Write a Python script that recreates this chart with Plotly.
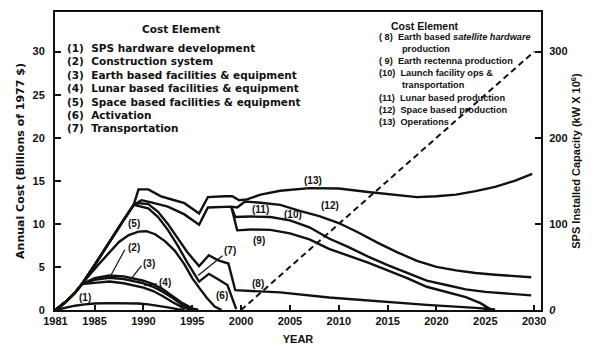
import plotly.graph_objects as go

# ---- Data -----------------------------------------------------------------
# Shared rising edge of the cost envelope (billions of 1977 $)
rise_years = [1981, 1982, 1983, 1983.7, 1985, 1986, 1987, 1988, 1989]
rise_cost = [0, 0.9, 2.0, 3.0, 5.2, 7.0, 8.8, 10.5, 12.2]

# (1) SPS hardware development
c1_years = [1981, 1982, 1983, 1984, 1985, 1986.5, 1988, 1989.5, 1990.5, 1991.5, 1992.5, 1993.5, 1994.2]
c1_cost = [0, 0.25, 0.5, 0.65, 0.75, 0.8, 0.8, 0.75, 0.65, 0.5, 0.3, 0.1, 0]

# Cumulative tops of elements (2), (3), (4)
bundle_years = [1983.7, 1985, 1986.5, 1988, 1990, 1991, 1992, 1993, 1994, 1995, 1995.6]
c2_cost = [3.0, 3.15, 3.3, 3.1, 2.6, 2.2, 1.6, 0.9, 0.3, 0.0, 0.0]
c3_cost = [3.0, 3.5, 3.75, 3.6, 3.1, 2.7, 2.1, 1.4, 0.6, 0.1, 0.0]
c4_cost = [3.0, 3.7, 4.0, 3.9, 3.4, 3.0, 2.4, 1.6, 0.8, 0.2, 0.0]

# Cumulative top of element (5)
c5_years = [1983.7, 1984.5, 1985.5, 1986.5, 1987.5, 1988.5, 1989.5, 1990.3, 1991.2,
            1992.2, 1993.2, 1994.2, 1995, 1995.7, 1996.5, 1997.3, 1998]
c5_cost = [3.0, 4.1, 5.4, 6.7, 7.9, 8.7, 9.1, 9.15, 8.8, 8.0, 6.9, 5.3, 3.7, 2.6, 1.4, 0.4, 0]

# Cumulative top of element (6)
c6_years = [1989, 1989.8, 1990.5, 1991.5, 1992.5, 1993.5, 1994.5, 1995.7, 1996.7, 1997.6, 1998.6, 1999.5]
c6_cost = [12.2, 12.0, 11.8, 10.8, 9.3, 7.5, 5.5, 3.3, 4.2, 3.6, 2.9, 0.1]

# Cumulative top of element (7), continuing as element (8)
c7_years = [1989, 1989.6, 1990.5, 1991.5, 1992.5, 1993.5, 1994.5, 1995.7, 1996.7, 1997.6,
            1998.7, 1999.4, 2001, 2004, 2009, 2014, 2019, 2024, 2026]
c7_cost = [12.2, 12.4, 12.3, 11.4, 10.0, 8.4, 6.7, 5.1, 6.35, 5.8, 5.4, 2.3, 2.2, 2.05,
           1.45, 1.0, 0.6, 0.25, 0.05]

# Cumulative top of element (9)
c9_years = [1999.0, 1999.6, 2001, 2003, 2005, 2007, 2009, 2011, 2013, 2015, 2017, 2019,
            2021, 2023, 2024.5, 2025.5]
c9_cost = [12.0, 9.25, 9.35, 9.3, 8.9, 8.2, 7.1, 6.3, 5.5, 4.6, 3.7, 2.7, 2.1, 1.5, 0.8, 0.1]

# Cumulative top of elements (10)/(11)
c10_years = [1999.0, 1999.4, 2001, 2003, 2005, 2007, 2009, 2011, 2013, 2015, 2017, 2019,
             2021, 2023, 2025, 2027, 2029.7]
c10_cost = [12.0, 10.8, 10.85, 10.8, 10.4, 9.6, 8.3, 7.3, 6.2, 5.2, 4.3, 3.4, 2.9, 2.4,
            2.1, 1.9, 1.7]

# Second band edge, continuing as the top of element (12)
c12_years = [1989, 1989.8, 1990.8, 1992.5, 1994.2, 1995.7, 1996.6, 1999.0, 1999.6, 2000.4,
             2002, 2004, 2006, 2008, 2010, 2012, 2014, 2016, 2018, 2020, 2022, 2024, 2026, 2029.7]
c12_cost = [12.2, 12.75, 12.5, 12.0, 11.1, 9.9, 11.9, 12.0, 11.9, 12.6, 12.45, 12.2, 11.5,
            10.9, 10.1, 9.0, 7.8, 6.7, 5.7, 5.0, 4.6, 4.3, 4.1, 3.8]

# Total annual cost, top of element (13)
total_years = [1989, 1989.5, 1990.5, 1991.8, 1993, 1994.2, 1995.7, 1996.6, 1998.3, 1999.1,
               1999.8, 2000.6, 2002, 2004, 2007, 2010, 2013, 2016, 2018, 2020, 2022, 2024,
               2026, 2028, 2029.8]
total_cost = [12.2, 14.0, 14.0, 13.2, 12.8, 12.4, 11.2, 13.1, 13.2, 13.2, 12.75, 12.85, 13.4,
              13.85, 14.15, 14.1, 13.7, 13.3, 13.1, 13.2, 13.4, 13.8, 14.3, 15.0, 15.8]

# SPS installed capacity (kW x 10^6), right axis
cap_years = [2000, 2030]
cap_values = [0, 300]

x_ticks = [1981, 1985, 1990, 1995, 2000, 2005, 2010, 2015, 2020, 2025, 2030]
y_ticks = [0, 5, 10, 15, 20, 25, 30]
y2_ticks = [0, 100, 200, 300]
y2_labels = ["<i>0</i>", "100", "200", "300"]

left_items = [
    "(1)  SPS hardware development",
    "(2)  Construction system",
    "(3)  Earth based facilities &amp; equipment",
    "(4)  Lunar based facilities &amp; equipment",
    "(5)  Space based facilities &amp; equipment",
    "(6)  Activation",
    "(7)  Transportation",
]
right_items = [
    "( 8)  Earth based <i>satellite hardware</i>",
    "         production",
    "( 9)  Earth rectenna production",
    "(10)  Launch facility ops &amp;",
    "         transportation",
    "(11)  Lunar based production",
    "(12)  Space based production",
    "(13)  Operations",
]

curve_labels = ["(1)", "(2)", "(3)", "(4)", "(5)", "(6)", "(7)", "(8)", "(9)",
                "(11)", "(10)", "(12)", "(13)"]
label_years = [1984.0, 1989.0, 1990.6, 1992.2, 1989.0, 1998.0, 1998.9, 2001.7, 2001.8,
               2002.0, 2005.3, 2009.1, 2007.4]
label_costs = [1.45, 7.3, 5.4, 3.2, 10.05, 1.7, 6.9, 3.1, 8.1, 11.7, 11.1, 12.15, 15.05]

# ---- Figure ---------------------------------------------------------------
INK = "#111111"
FONT = "Liberation Sans, Arial, sans-serif"
WIDE = "DejaVu Sans, Liberation Sans, sans-serif"
LW = 2.4

# plot area in pixels, used to place the legend text blocks
PLOT_L, PLOT_W, PLOT_B, PLOT_H = 55, 486, 310, 298


def paper_x(px):
    return (px - PLOT_L) / PLOT_W


def paper_y(py):
    return (PLOT_B - py) / PLOT_H


fig = go.Figure()


def add_line(xs, ys, width=LW):
    fig.add_trace(go.Scatter(x=xs, y=ys, mode="lines",
                             line=dict(color=INK, width=width),
                             hoverinfo="skip", showlegend=False))


add_line(c1_years, c1_cost)
add_line(rise_years[:4] + bundle_years[1:], rise_cost[:4] + c2_cost[1:])
add_line(rise_years[:4] + bundle_years[1:], rise_cost[:4] + c3_cost[1:])
add_line(rise_years[:4] + bundle_years[1:], rise_cost[:4] + c4_cost[1:])
add_line(rise_years[:4] + c5_years[1:], rise_cost[:4] + c5_cost[1:])
add_line(rise_years + c6_years[1:], rise_cost + c6_cost[1:])
add_line(rise_years + c7_years[1:], rise_cost + c7_cost[1:])
add_line(c9_years, c9_cost)
add_line(c10_years, c10_cost)
add_line(rise_years + c12_years[1:], rise_cost + c12_cost[1:])
add_line(rise_years + total_years[1:], rise_cost + total_cost[1:])

fig.add_trace(go.Scatter(x=cap_years, y=cap_values, mode="lines", yaxis="y2",
                         line=dict(color=INK, width=2, dash="6px,4px"),
                         hoverinfo="skip", showlegend=False))

for txt, xv, yv in zip(curve_labels, label_years, label_costs):
    fig.add_annotation(x=xv, y=yv, text=txt, showarrow=False,
                       font=dict(family=FONT, size=10, color=INK, weight="bold"))

# leader lines from labels to their curves
leaders = [((1988.1, 7.0), (1986.7, 4.1)),
           ((1989.8, 5.15), (1988.8, 3.7)),
           ((1991.4, 3.05), (1990.1, 2.85)),
           ((1998.1, 6.3), (1995.6, 4.0))]
for (x0, y0), (x1, y1) in leaders:
    fig.add_shape(type="line", x0=x0, y0=y0, x1=x1, y1=y1,
                  line=dict(color=INK, width=1.2))

# legend blocks
fig.add_annotation(xref="paper", yref="paper", x=paper_x(181), y=paper_y(29),
                   text="Cost Element", showarrow=False, xanchor="center", yanchor="middle",
                   font=dict(family=WIDE, size=10.5, color=INK, weight="bold"))
fig.add_annotation(xref="paper", yref="paper", x=paper_x(425), y=paper_y(26),
                   text="Cost Element", showarrow=False, xanchor="center", yanchor="middle",
                   font=dict(family=FONT, size=10.5, color=INK, weight="bold"))
for i, txt in enumerate(left_items):
    fig.add_annotation(xref="paper", yref="paper", x=paper_x(65), y=paper_y(48 + i * 13.4),
                       text=txt, showarrow=False, xanchor="left", yanchor="middle",
                       font=dict(family=WIDE, size=10.5, color=INK, weight="bold"))
for i, txt in enumerate(right_items):
    fig.add_annotation(xref="paper", yref="paper", x=paper_x(377), y=paper_y(37 + i * 12.1),
                       text=txt, showarrow=False, xanchor="left", yanchor="middle",
                       font=dict(family=FONT, size=9.2, color=INK, weight="bold"))

axis_font = dict(family=FONT, size=11, color=INK, weight="bold")
title_font = dict(family=WIDE, size=11, color=INK, weight="bold")
fig.update_layout(
    width=596, height=351,
    margin=dict(l=55, r=55, t=12, b=41, autoexpand=False),
    paper_bgcolor="white", plot_bgcolor="white",
    xaxis=dict(range=[1980.95, 2030.7], tickvals=x_ticks, ticks="inside", ticklen=5,
               tickwidth=1.5, tickcolor=INK, showline=True, linecolor=INK, linewidth=2,
               mirror=True, showgrid=False, zeroline=False, tickfont=axis_font,
               automargin=False,
               title=dict(text="YEAR", font=axis_font, standoff=9)),
    yaxis=dict(range=[0, 34.6], tickvals=y_ticks, ticks="inside", ticklen=6,
               tickwidth=1.5, tickcolor=INK, showline=True, linecolor=INK, linewidth=2,
               showgrid=False, zeroline=False, tickfont=axis_font, ticklabelstandoff=6,
               automargin=False,
               title=dict(text="Annual Cost (Billions of 1977 $)", font=title_font, standoff=6)),
    yaxis2=dict(range=[0, 346], overlaying="y", side="right", tickvals=y2_ticks,
                ticktext=y2_labels, ticks="inside", ticklen=6, tickwidth=1.5, tickcolor=INK,
                showline=True, linecolor=INK, linewidth=2, showgrid=False, zeroline=False,
                tickfont=axis_font, ticklabelstandoff=4, automargin=False,
                title=dict(text="SPS Installed Capacity (kW X 10<sup>6</sup>)",
                           font=axis_font, standoff=6)),
)

fig.write_html("out.html")
